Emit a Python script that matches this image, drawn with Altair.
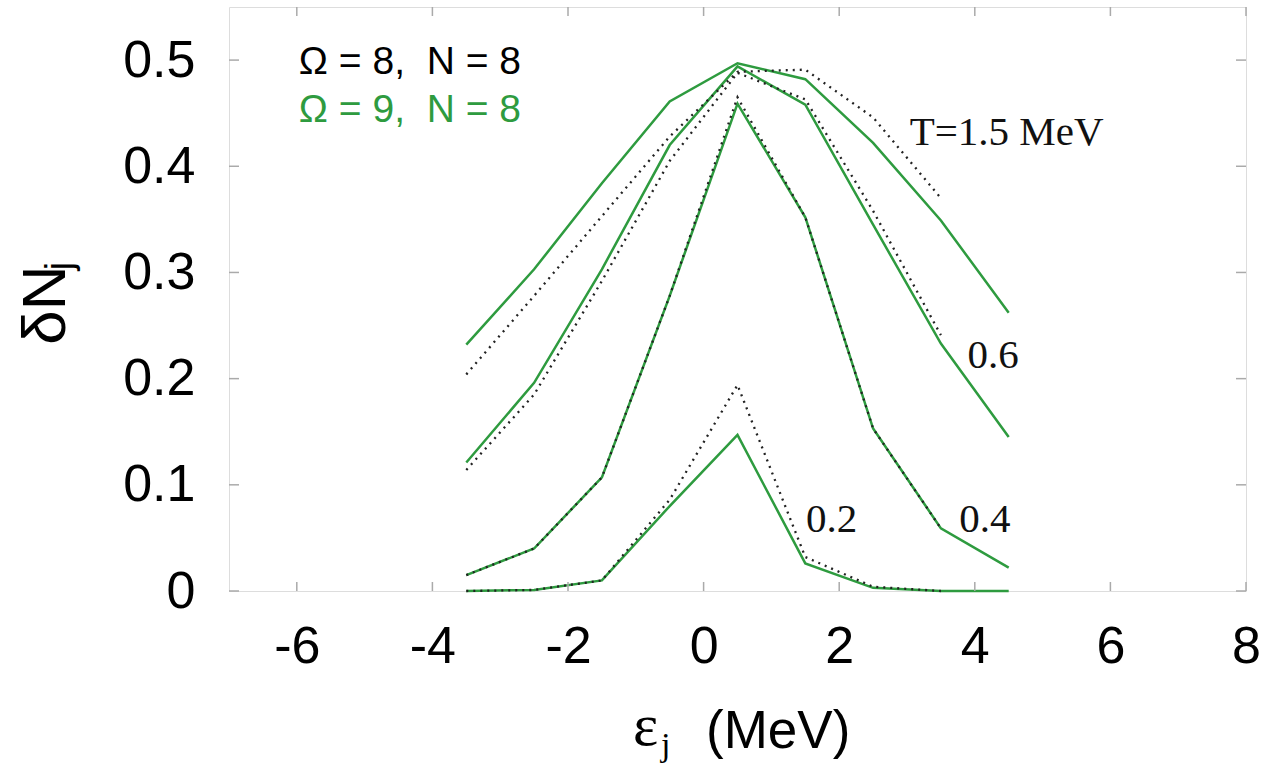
import altair as alt
import pandas as pd

# ---- data ----
eps9 = [-3.5, -2.5, -1.5, -0.5, 0.5, 1.5, 2.5, 3.5, 4.5]   # Omega = 9 levels
eps8 = [-3.5, -2.5, -1.5, -0.5, 0.5, 1.5, 2.5, 3.5]        # Omega = 8 levels
temps = ["1.5", "0.6", "0.4", "0.2"]

# Omega = 9, N = 8 (green solid)
om9_T15 = [0.232, 0.303, 0.384, 0.461, 0.497, 0.482, 0.422, 0.349, 0.262]
om9_T06 = [0.121, 0.196, 0.303, 0.420, 0.494, 0.458, 0.345, 0.233, 0.145]
om9_T04 = [0.015, 0.040, 0.107, 0.278, 0.459, 0.352, 0.153, 0.059, 0.022]
om9_T02 = [0.000, 0.001, 0.010, 0.080, 0.147, 0.026, 0.003, 0.000, 0.000]

# Omega = 8, N = 8 (black dotted)
om8_T15 = [0.204, 0.278, 0.353, 0.428, 0.489, 0.491, 0.446, 0.370]
om8_T06 = [0.114, 0.185, 0.292, 0.405, 0.488, 0.463, 0.358, 0.241]
om8_T04 = [0.015, 0.040, 0.107, 0.278, 0.465, 0.352, 0.153, 0.059]
om8_T02 = [0.000, 0.001, 0.010, 0.086, 0.194, 0.032, 0.004, 0.000]

x_ticks = [-6, -4, -2, 0, 2, 4, 6, 8]
y_ticks = [0, 0.1, 0.2, 0.3, 0.4, 0.5]

curve_labels = ["T=1.5 MeV", "0.6", "0.4", "0.2"]
curve_label_x = [4.47, 4.27, 4.15, 1.89]
curve_label_y = [0.431, 0.221, 0.067, 0.067]

legend_text = ["\u03a9 = 8,\u00a0 N = 8", "\u03a9 = 9,\u00a0 N = 8"]
legend_color = ["#000000", "#2e9b3f"]
legend_x = [-5.97, -5.97]
legend_y = [0.498, 0.453]

GREEN = "#2e9b3f"
W, H = 1017, 584

# ---- tables ----
def long(eps, series):
    rows = []
    for T, ys in zip(temps, series):
        for e, v in zip(eps, ys):
            rows.append({"T": T, "eps": e, "dN": v})
    return pd.DataFrame(rows)

green_df = long(eps9, [om9_T15, om9_T06, om9_T04, om9_T02])
dot_df = long(eps8, [om8_T15, om8_T06, om8_T04, om8_T02])
lab_df = pd.DataFrame({"text": curve_labels, "x": curve_label_x, "y": curve_label_y})
leg_df = pd.DataFrame({"text": legend_text, "col": legend_color, "x": legend_x, "y": legend_y})
xt_df = pd.DataFrame({"v": x_ticks})
yt_df = pd.DataFrame({"v": y_ticks})

xs = alt.Scale(domain=[-7, 8], nice=False, zero=False)
ys = alt.Scale(domain=[0, 0.55], nice=False, zero=True)

x_axis = alt.Axis(values=x_ticks, labelExpr="'' + datum.value", labelFont="Liberation Sans",
                  labelFontSize=52, labelColor="#000", labelPadding=30, ticks=False,
                  domain=False, grid=False, title=None, labelFlush=False, labelOverlap=False,
                  labelBound=False)
y_axis = alt.Axis(values=y_ticks, labelExpr="'' + datum.value", labelFont="Liberation Sans",
                  labelFontSize=52, labelColor="#000", labelPadding=34, ticks=False,
                  domain=False, grid=False, title=None, labelOverlap=False)

X = lambda f: alt.X(f, scale=xs, axis=x_axis)
Y = lambda f: alt.Y(f, scale=ys, axis=y_axis)

green = alt.Chart(green_df).mark_line(color=GREEN, strokeWidth=2.5).encode(
    x=X("eps:Q"), y=Y("dN:Q"), detail="T:N",
)

dotted = alt.Chart(dot_df).mark_line(color="#222", strokeWidth=2.3, strokeDash=[2, 5]).encode(
    x=X("eps:Q"), y=Y("dN:Q"), detail="T:N",
)

labels = alt.Chart(lab_df).mark_text(font="Liberation Serif", fontSize=41, align="center",
                                     baseline="middle", color="#111").encode(
    x=X("x:Q"), y=Y("y:Q"), text="text:N",
)

legend = alt.Chart(leg_df).mark_text(font="Liberation Sans", fontSize=39, align="left",
                                     baseline="middle").encode(
    x=X("x:Q"), y=Y("y:Q"), text="text:N",
    color=alt.Color("col:N", scale=None),
)

tick_col = "#aaaaaa"
xt_bottom = alt.Chart(xt_df).mark_rule(color=tick_col, strokeWidth=1.5).encode(
    x=X("v:Q"), y=alt.value(H), y2=alt.value(H - 9))
xt_top = alt.Chart(xt_df).mark_rule(color=tick_col, strokeWidth=1.5).encode(
    x=X("v:Q"), y=alt.value(0), y2=alt.value(9))
yt_left = alt.Chart(yt_df).mark_rule(color=tick_col, strokeWidth=1.5).encode(
    y=Y("v:Q"), x=alt.value(0), x2=alt.value(10))
yt_right = alt.Chart(yt_df).mark_rule(color=tick_col, strokeWidth=1.5).encode(
    y=Y("v:Q"), x=alt.value(W), x2=alt.value(W - 10))

one = pd.DataFrame({"a": [0]})
# axis titles (mixed fonts / subscripts)
t_eps = alt.Chart(one).mark_text(text="\u03b5", font="Liberation Serif", fontSize=60,
                                 align="left", baseline="alphabetic", color="#000").encode(
    x=alt.value(404), y=alt.value(738))
t_j = alt.Chart(one).mark_text(text="j", font="Liberation Serif", fontSize=34,
                               align="left", baseline="alphabetic", color="#000").encode(
    x=alt.value(432), y=alt.value(749))
t_mev = alt.Chart(one).mark_text(text="(MeV)", font="Liberation Sans", fontSize=53,
                                 align="left", baseline="alphabetic", color="#000").encode(
    x=alt.value(477), y=alt.value(741))
t_dn = alt.Chart(one).mark_text(text="\u03b4N", font="Liberation Sans", fontSize=62, angle=270,
                                align="center", baseline="alphabetic", color="#000").encode(
    x=alt.value(-164), y=alt.value(298))
t_dnj = alt.Chart(one).mark_text(text="j", font="Liberation Sans", fontSize=38, angle=270,
                                 align="center", baseline="alphabetic", color="#000").encode(
    x=alt.value(-157), y=alt.value(259))

chart = alt.layer(
    green, dotted, labels, legend, xt_bottom, xt_top, yt_left, yt_right,
    t_eps, t_j, t_mev, t_dn, t_dnj,
).properties(
    width=W, height=H,
    autosize=alt.AutoSizeParams(type="none"),
    padding={"left": 229, "top": 7, "right": 17, "bottom": 173},
).configure_view(
    stroke="#aaaaaa", strokeWidth=1.5
).configure(background="white")

chart.save("out.html", embed_options={"renderer": "svg", "actions": False})
